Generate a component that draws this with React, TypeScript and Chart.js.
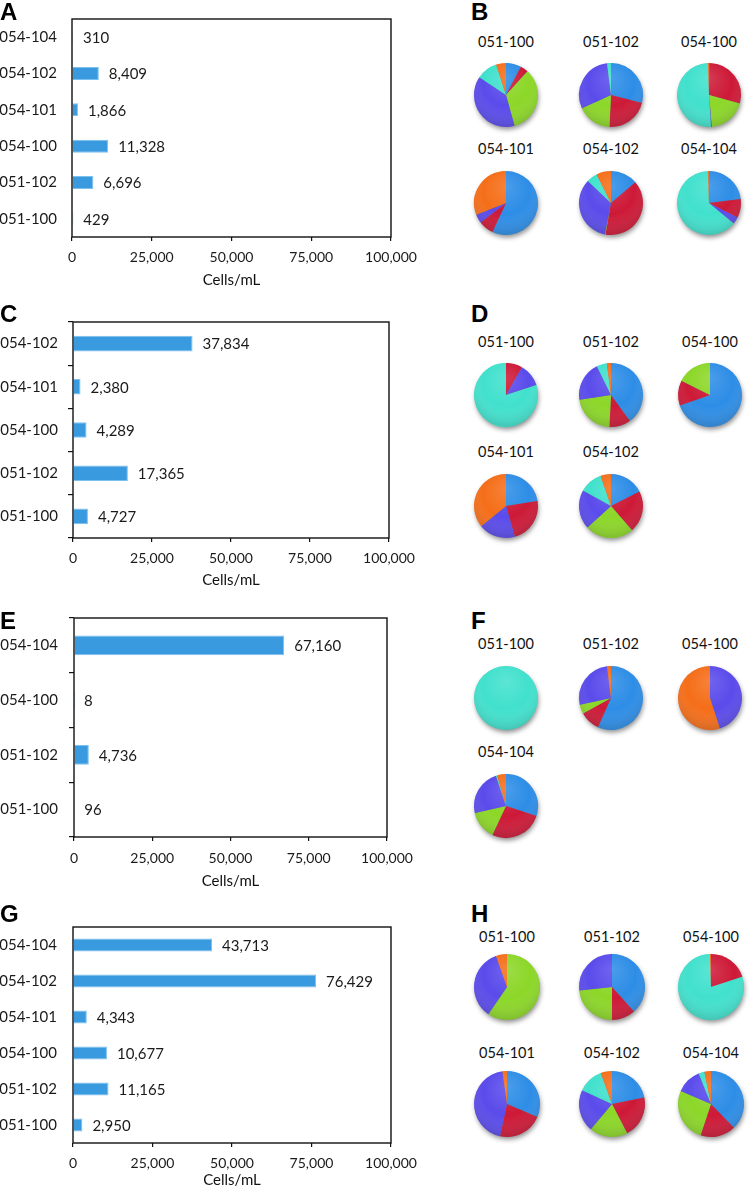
import React, { useEffect, useRef } from "react";
import { Chart, registerables } from "chart.js";

Chart.register(...registerables);

const FONT_FAMILY = "Lato, 'Open Sans', 'DejaVu Sans', sans-serif";

// ---- Bar chart data (top to bottom as shown) ----
const catsA = ["054-104", "054-102", "054-101", "054-100", "051-102", "051-100"];
const valsA = [310, 8409, 1866, 11328, 6696, 429];
const catsC = ["054-102", "054-101", "054-100", "051-102", "051-100"];
const valsC = [37834, 2380, 4289, 17365, 4727];
const catsE = ["054-104", "054-100", "051-102", "051-100"];
const valsE = [67160, 8, 4736, 96];
const catsG = ["054-104", "054-102", "054-101", "054-100", "051-102", "051-100"];
const valsG = [43713, 76429, 4343, 10677, 11165, 2950];
const xTickValues = [0, 25000, 50000, 75000, 100000];
const xAxisTitle = "Cells/mL";

// ---- Pie chart data (percent shares, clockwise from 12 o'clock) ----
const sliceNames = ["Group 1", "Group 2", "Group 3", "Group 4", "Group 5", "Group 6"];
const pieSitesB = ["051-100", "051-102", "054-100", "054-101", "054-102", "054-104"];
const pieSharesB = [
  [7.7, 4, 34, 38.6, 10.7, 5],
  [29, 21.7, 17.4, 29.8, 2, 0],
  [0.3, 29, 19.3, 0.4, 50.5, 0.5],
  [57, 7.6, 0, 4.4, 0, 31],
  [13.8, 39, 0.3, 34, 5.5, 7.4],
  [23, 9.5, 0, 3.5, 63.5, 0.5],
];
const pieSitesD = ["051-100", "051-102", "054-100", "054-101", "054-102"];
const pieSharesD = [
  [0, 8.3, 0, 11.7, 80, 0],
  [40, 10.8, 21.8, 20.1, 5.2, 2.1],
  [69.7, 12.7, 17.6, 0, 0, 0],
  [22.5, 23, 0, 18.6, 0, 35.9],
  [17.5, 21.1, 24.6, 19.8, 11.7, 5.3],
];
const pieSitesF = ["051-100", "051-102", "054-100", "054-104"];
const pieSharesF = [
  [0, 0, 0, 0, 100, 0],
  [56.7, 10.2, 4.7, 26.4, 0, 2],
  [0, 0, 0, 45, 0, 55],
  [30, 27, 14.5, 23.4, 0.6, 4.5],
];
const pieSitesH = ["051-100", "051-102", "054-100", "054-101", "054-102", "054-104"];
const pieSharesH = [
  [0, 0, 59.6, 35, 0, 5.4],
  [38.4, 11.6, 23.3, 26.7, 0, 0],
  [0, 20, 0, 0, 79.5, 0.5],
  [31.4, 22, 0, 44.4, 0, 2.2],
  [21.9, 20.5, 18.7, 20.8, 12.6, 5.5],
  [37.8, 17.3, 26.4, 12.4, 2.9, 3.2],
];

const pieColors = ["#2d8de6", "#cd1937", "#8cd728", "#5a4beb", "#41e1cd", "#f56e19"];

type BarLayout = {
  top: number;
  height: number;
  width: number;
  left: number;
  right: number;
  plotTop: number;
  plotBottom: number;
  tickY: number;
  titleY: number;
  yTickMarks: boolean;
  yLabelRight: number;
};

const framePlugin = {
  id: "frame",
  afterDraw(chart: any) {
    const { ctx, chartArea: a } = chart;
    ctx.save();
    ctx.strokeStyle = "#111";
    ctx.lineWidth = 1.4;
    ctx.strokeRect(a.left, a.top, a.right - a.left, a.bottom - a.top);
    ctx.restore();
  },
};

const valueLabelPlugin = {
  id: "valueLabels",
  afterDatasetsDraw(chart: any) {
    const ctx = chart.ctx;
    const meta = chart.getDatasetMeta(0);
    const data = chart.data.datasets[0].data as number[];
    ctx.save();
    ctx.font = `15px ${FONT_FAMILY}`;
    ctx.fillStyle = "#1a1a1a";
    ctx.textBaseline = "middle";
    ctx.textAlign = "left";
    meta.data.forEach((el: any, i: number) => {
      ctx.fillText(Number(data[i]).toLocaleString("en-US"), el.x + 10, el.y + 1);
    });
    ctx.restore();
  },
};

function BarPanel({ labels, values, L }: { labels: string[]; values: number[]; L: BarLayout }) {
  const ref = useRef<HTMLCanvasElement>(null);
  useEffect(() => {
    const canvas = ref.current!;
    const tickLen = 4;
    const yTickLen = L.yTickMarks ? 5 : 0;
    const chart = new Chart(canvas, {
      type: "bar",
      data: {
        labels,
        datasets: [
          {
            data: values,
            backgroundColor: "#3a9ae0",
            borderColor: "#7cc0ee",
            borderWidth: 1,
            barPercentage: 0.36,
            categoryPercentage: 1,
          },
        ],
      },
      options: {
        indexAxis: "y",
        responsive: false,
        animation: false,
        layout: { padding: { top: L.plotTop, right: L.width - L.right, left: 0, bottom: 0 } },
        plugins: { legend: { display: false }, tooltip: { enabled: false } },
        scales: {
          x: {
            type: "linear",
            min: 0,
            max: 100000,
            afterBuildTicks: (s: any) => {
              s.ticks = xTickValues.map((v) => ({ value: v }));
            },
            ticks: {
              font: { family: FONT_FAMILY, size: 14 },
              color: "#1a1a1a",
              padding: L.tickY - L.plotBottom - tickLen - 8.4,
              maxRotation: 0,
              autoSkip: false,
              callback: (v: any) => Number(v).toLocaleString("en-US"),
            },
            grid: { drawOnChartArea: false, drawTicks: true, tickLength: tickLen, color: "#111", lineWidth: 1.2 },
            border: { display: false },
            title: {
              display: true,
              text: xAxisTitle,
              font: { family: FONT_FAMILY, size: 15 },
              color: "#111",
              padding: { top: 0, bottom: L.height - L.titleY - 9 },
            },
            afterFit: (s: any) => {
              s.height = L.height - L.plotBottom;
              s.paddingLeft = 0;
              s.paddingRight = 0;
            },
          } as any,
          y: {
            type: "category",
            ticks: {
              font: { family: FONT_FAMILY, size: 15 },
              color: "#1a1a1a",
              padding: L.left - yTickLen - L.yLabelRight,
            },
            grid: {
              display: true,
              drawOnChartArea: false,
              drawTicks: L.yTickMarks,
              tickLength: L.yTickMarks ? yTickLen : 0,
              color: "#111",
              lineWidth: 1.2,
              offset: true,
            },
            border: { display: false },
            afterFit: (s: any) => {
              s.width = L.left;
              s.paddingTop = 0;
              s.paddingBottom = 0;
            },
          } as any,
        },
      },
      plugins: [framePlugin, valueLabelPlugin],
    });
    return () => chart.destroy();
  }, []);
  return (
    <canvas
      ref={ref}
      width={L.width}
      height={L.height}
      style={{ position: "absolute", left: 0, top: L.top, width: L.width, height: L.height }}
    />
  );
}

const pieShadePlugin = {
  id: "pieShade",
  beforeDatasetsDraw(chart: any) {
    const arc = chart.getDatasetMeta(0).data[0];
    if (!arc) return;
    const { x, y, outerRadius: r } = arc as any;
    const ctx = chart.ctx;
    ctx.save();
    ctx.shadowColor = "rgba(0,0,0,0.45)";
    ctx.shadowBlur = 5;
    ctx.shadowOffsetY = 3;
    ctx.shadowOffsetX = 1;
    ctx.beginPath();
    ctx.arc(x, y, r - 0.5, 0, Math.PI * 2);
    ctx.fillStyle = "#777";
    ctx.fill();
    ctx.restore();
  },
  afterDatasetsDraw(chart: any) {
    const arc = chart.getDatasetMeta(0).data[0];
    if (!arc) return;
    const { x, y, outerRadius: r } = arc as any;
    const ctx = chart.ctx;
    const g = ctx.createRadialGradient(x, y - r * 0.55, 0, x, y - r * 0.2, r * 1.45);
    g.addColorStop(0, "rgba(255,255,255,0.14)");
    g.addColorStop(0.5, "rgba(255,255,255,0)");
    g.addColorStop(1, "rgba(0,0,0,0.25)");
    ctx.save();
    ctx.beginPath();
    ctx.arc(x, y, r, 0, Math.PI * 2);
    ctx.fillStyle = g;
    ctx.fill();
    ctx.restore();
  },
};

function PieChart({ shares, cx, cy, r }: { shares: number[]; cx: number; cy: number; r: number }) {
  const ref = useRef<HTMLCanvasElement>(null);
  const pad = 9;
  const size = 2 * r + 2 * pad;
  useEffect(() => {
    const chart = new Chart(ref.current!, {
      type: "pie",
      data: {
        labels: sliceNames,
        datasets: [{ data: shares, backgroundColor: pieColors, borderWidth: 0 }],
      },
      options: {
        responsive: false,
        animation: false,
        layout: { padding: pad },
        plugins: { legend: { display: false }, tooltip: { enabled: false } },
      },
      plugins: [pieShadePlugin],
    });
    return () => chart.destroy();
  }, []);
  return (
    <canvas
      ref={ref}
      width={size}
      height={size}
      style={{ position: "absolute", left: cx - r - pad, top: cy - r - pad, width: size, height: size }}
    />
  );
}

function PieGroup({
  sites,
  shares,
  xs,
  rowY,
  labelY,
  r,
}: {
  sites: string[];
  shares: number[][];
  xs: number[];
  rowY: number[];
  labelY: number[];
  r: number;
}) {
  return (
    <>
      {sites.map((s, i) => {
        const row = Math.floor(i / 3);
        const col = i % 3;
        const cx = xs[col];
        return (
          <React.Fragment key={s + i}>
            <div
              style={{
                position: "absolute",
                left: cx - 50,
                width: 100,
                top: labelY[row] - 8,
                lineHeight: "16px",
                fontSize: 14.5,
                textAlign: "center",
                color: "#111",
                fontFamily: FONT_FAMILY,
              }}
            >
              {s}
            </div>
            <PieChart shares={shares[i]} cx={cx} cy={rowY[row]} r={r} />
          </React.Fragment>
        );
      })}
    </>
  );
}

function Letter({ text, x, y }: { text: string; x: number; y: number }) {
  return (
    <div
      style={{
        position: "absolute",
        left: x,
        top: y,
        fontFamily: "'Liberation Sans', Arial, sans-serif",
        fontWeight: "bold",
        fontSize: 24,
        lineHeight: "24px",
        color: "#000",
      }}
    >
      {text}
    </div>
  );
}

const layoutA: BarLayout = { top: 0, height: 292, width: 420, left: 72, right: 391, plotTop: 19, plotBottom: 237, tickY: 257, titleY: 280, yTickMarks: false, yLabelRight: 57 };
const layoutC: BarLayout = { top: 290, height: 302, width: 420, left: 73, right: 389, plotTop: 32, plotBottom: 248, tickY: 268, titleY: 290, yTickMarks: true, yLabelRight: 58 };
const layoutE: BarLayout = { top: 580, height: 313, width: 420, left: 74, right: 387, plotTop: 38, plotBottom: 257, tickY: 278, titleY: 301, yTickMarks: true, yLabelRight: 58 };
const layoutG: BarLayout = { top: 870, height: 321, width: 420, left: 73, right: 391, plotTop: 57, plotBottom: 273, tickY: 293, titleY: 310, yTickMarks: false, yLabelRight: 57 };

export default function App() {
  return (
    <div
      style={{
        position: "absolute",
        left: 0,
        top: 0,
        width: 750,
        height: 1191,
        overflow: "hidden",
        background: "#fff",
        fontFamily: FONT_FAMILY,
      }}
    >
      <BarPanel labels={catsA} values={valsA} L={layoutA} />
      <BarPanel labels={catsC} values={valsC} L={layoutC} />
      <BarPanel labels={catsE} values={valsE} L={layoutE} />
      <BarPanel labels={catsG} values={valsG} L={layoutG} />

      <PieGroup sites={pieSitesB} shares={pieSharesB} xs={[506, 611, 709]} rowY={[95, 203]} labelY={[42, 149]} r={32} />
      <PieGroup sites={pieSitesD} shares={pieSharesD} xs={[506, 611, 710]} rowY={[395, 506]} labelY={[342, 452]} r={32} />
      <PieGroup sites={pieSitesF} shares={pieSharesF} xs={[506, 611, 710]} rowY={[698, 806]} labelY={[644, 752]} r={32} />
      <PieGroup sites={pieSitesH} shares={pieSharesH} xs={[507, 612, 711]} rowY={[987, 1104]} labelY={[937, 1053]} r={33} />

      <Letter text="A" x={0} y={0} />
      <Letter text="B" x={471} y={0} />
      <Letter text="C" x={0} y={302} />
      <Letter text="D" x={471} y={302} />
      <Letter text="E" x={0} y={609} />
      <Letter text="F" x={471} y={609} />
      <Letter text="G" x={0} y={902} />
      <Letter text="H" x={471} y={902} />
    </div>
  );
}
